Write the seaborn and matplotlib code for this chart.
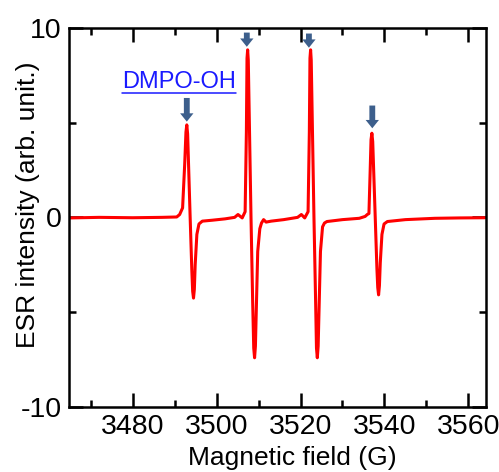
import numpy as np
import pandas as pd
import matplotlib
matplotlib.use("Agg")
import matplotlib.pyplot as plt
from matplotlib.lines import Line2D
from matplotlib.ticker import MultipleLocator
import seaborn as sns

# ESR spectrum (field in G, intensity in arb. unit)
field = [3465.0, 3472.0, 3480.0, 3487.0, 3490.5, 3491.2, 3491.9, 3492.4, 3492.7, 3492.9,
         3493.1, 3493.7, 3494.1, 3494.3, 3494.5, 3494.7, 3494.9, 3495.3, 3495.8, 3496.6, 3499.0,
         3502.0, 3504.3, 3505.1, 3506.1, 3506.8, 3507.1, 3507.25, 3507.4, 3507.55, 3508.2,
         3508.6, 3508.85, 3509.05, 3509.25, 3509.8, 3510.3, 3510.7, 3511.2, 3511.8, 3513.0,
         3516.0, 3519.3, 3520.2, 3521.0, 3521.8, 3522.1, 3522.25, 3522.4, 3522.55, 3523.2,
         3523.6, 3523.8, 3524.0, 3524.2, 3524.75, 3525.25, 3525.7, 3526.3, 3530.0, 3534.0,
         3535.4, 3535.9, 3536.3, 3536.6, 3536.8, 3537.0, 3537.2, 3537.8, 3538.2, 3538.4, 3538.6,
         3538.8, 3539.0, 3539.4, 3539.9, 3540.7, 3545.0, 3552.0, 3558.0, 3564.0]
intensity = [-0.03, 0.0, -0.02, 0.0, 0.02, 0.15, 0.5, 2.8, 4.5, 4.88,
             4.4, 0.0, -2.8, -3.9, -4.26, -3.8, -2.5, -0.9, -0.35, -0.2, -0.15,
             -0.08, 0.0, 0.15, -0.03, 0.3, 4.5, 8.4, 8.84, 8.3, 0.0,
             -4.5, -6.9, -7.41, -6.8, -1.8, -0.6, -0.3, -0.12, -0.25, -0.2,
             -0.12, 0.0, 0.15, -0.03, 0.3, 4.5, 8.4, 8.84, 8.3, 0.0,
             -4.5, -6.9, -7.41, -6.8, -1.8, -0.5, -0.3, -0.22, -0.12, -0.05,
             0.05, 0.15, 0.2, 2.5, 4.1, 4.44, 4.0, 0.0, -2.7, -3.7, -4.09,
             -3.6, -2.4, -0.9, -0.35, -0.22, -0.12, -0.05, -0.03, -0.02]

# arrows marking the DMPO-OH quartet
arrow_x = [3492.9, 3507.2, 3522.0, 3537.1]
arrow_tail = [6.3, 9.75, 9.7, 5.9]
arrow_tip = [5.05, 9.0, 8.95, 4.7]

label_text = "DMPO-OH"
label_pos = (3491.1, 6.82)

df = pd.DataFrame({"field": field, "intensity": intensity})

sns.set_theme(style="ticks")
plt.rcParams["font.family"] = ["Liberation Sans", "DejaVu Sans"]
plt.rcParams["axes.unicode_minus"] = False
for k in ["text.color", "axes.labelcolor", "xtick.color", "ytick.color"]:
    plt.rcParams[k] = "black"

fig = plt.figure(figsize=(4.99, 4.72), dpi=100)
ax = fig.add_axes([0.138, 0.138, 0.836, 0.803])

sns.lineplot(data=df, x="field", y="intensity", color="#ff0000", lw=2.2,
             estimator=None, ax=ax)

for x, y0, y1 in zip(arrow_x, arrow_tail, arrow_tip):
    ax.annotate("", xy=(x, y1), xytext=(x, y0),
                arrowprops=dict(arrowstyle="simple,head_width=0.8,head_length=0.5,tail_width=0.35",
                                color="#3d5f8c", shrinkA=0, shrinkB=0, lw=0))

txt = ax.text(label_pos[0], label_pos[1], label_text, color="#1a1aff",
              fontsize=17, ha="center", va="baseline")

ax.set_xlim(3464.8, 3564.2)
ax.set_ylim(-10, 10)
ax.xaxis.set_major_locator(MultipleLocator(20))
ax.xaxis.set_minor_locator(MultipleLocator(10))
ax.yaxis.set_major_locator(MultipleLocator(10))
ax.yaxis.set_minor_locator(MultipleLocator(5))
ax.tick_params(which="both", direction="in", top=True, right=True,
               width=1.8, labelsize=20.5)
ax.tick_params(which="major", length=10, pad=5)
ax.tick_params(which="minor", length=5)
for s in ax.spines.values():
    s.set_linewidth(1.8)
    s.set_color("black")

ax.set_xlabel("Magnetic field (G)", fontsize=19)
ax.set_ylabel("ESR intensity (arb. unit.)", fontsize=19)
ax.xaxis.set_label_coords(0.535, -0.104)
ax.yaxis.set_label_coords(-0.068, 0.533)

# underline the label like in the original
fig.canvas.draw()
bb = txt.get_window_extent(fig.canvas.get_renderer())
base_y = ax.transData.transform(label_pos)[1] - 4.4
to_fig = fig.transFigure.inverted()
(x0, y0), (x1, _) = to_fig.transform([(bb.x0, base_y), (bb.x1, base_y)])
fig.add_artist(Line2D([x0, x1], [y0, y0], color="#1a1aff", lw=1.1,
                      transform=fig.transFigure))

fig.savefig("out.png", dpi=100)
